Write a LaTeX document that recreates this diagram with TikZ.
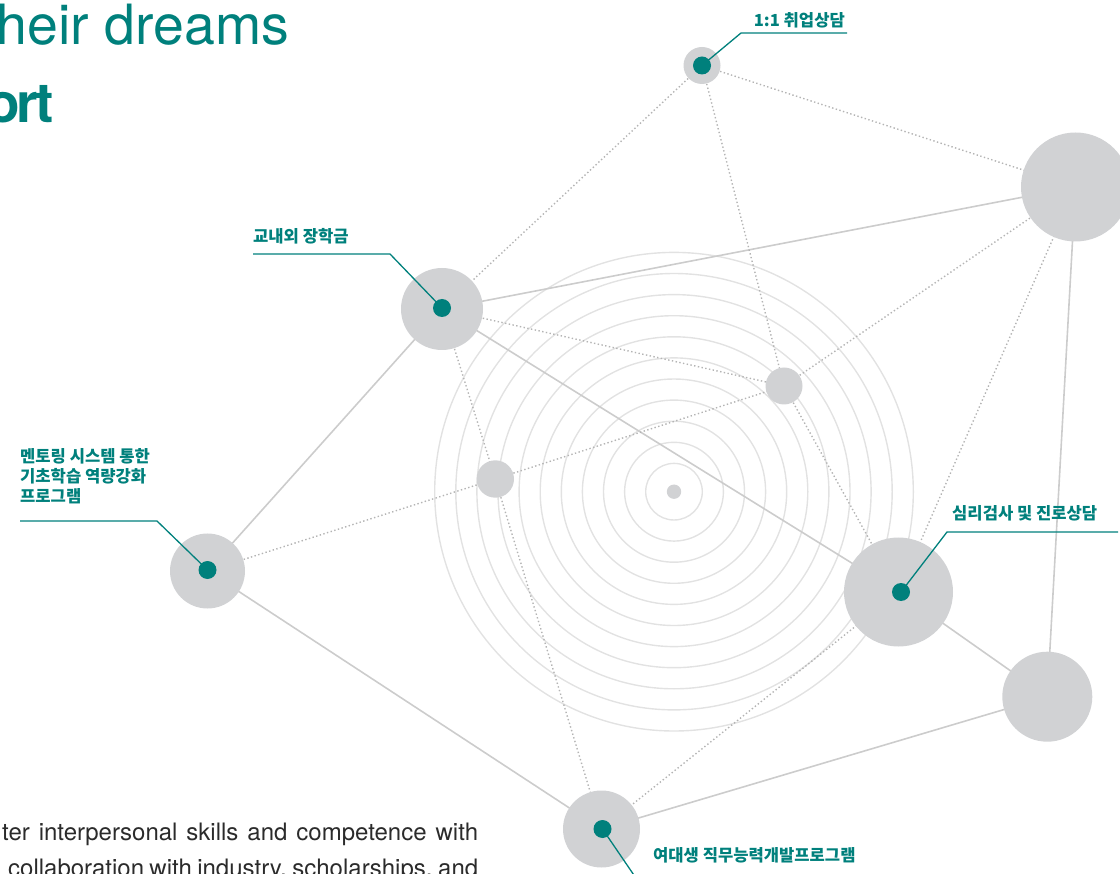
\documentclass[tikz,border=0pt]{standalone}
\usepackage{fontspec}
\setmainfont{TeX Gyre Heros}
\newfontfamily\kr{Noto Sans CJK KR}
\newfontfamily\titlebold[LetterSpace=-6]{TeX Gyre Heros}
\definecolor{teal0}{RGB}{0,128,124}
\definecolor{cgray}{RGB}{209,210,212}
\definecolor{clink}{RGB}{204,204,204}
\definecolor{cdot}{RGB}{180,180,180}
\definecolor{cring}{RGB}{226,226,226}
\definecolor{ctext}{RGB}{43,43,43}
\pgfdeclarelayer{rings}
\pgfdeclarelayer{links}
\pgfsetlayers{rings,links,main}
\begin{document}
\begin{tikzpicture}[x=1pt,y=-1pt,
  gnode/.style={circle,fill=cgray,inner sep=0pt,draw=none},
  tdot/.style={circle,fill=teal0,inner sep=0pt,minimum size=18pt},
  solidlink/.style={draw=clink,line width=1.6pt},
  dotlink/.style={draw=cdot,line width=1.4pt,dash pattern=on 1.4pt off 2.4pt},
  ring/.style={draw=cring,line width=1.4pt},
  leader/.style={draw=teal0,line width=1.3pt},
  lbl/.style={font=\kr\bfseries\fontsize{16.6}{20}\selectfont,text=teal0,inner sep=0pt},
  body/.style={font=\fontsize{24}{36}\selectfont,text=ctext,inner sep=0pt}]
\useasboundingbox (0,0) rectangle (1120,874);
\clip (0,0) rectangle (1120,874);
% title
\node[anchor=base west,inner sep=0pt,text=teal0,font=\fontsize{55.5}{60}\selectfont] (title1) at (-18.5,45) {their dreams};
\node[anchor=base east,inner sep=0pt,text=teal0,font=\titlebold\bfseries\fontsize{55}{60}\selectfont] (title2) at (54,123) {support};
% body text
\node[anchor=base west,body] (body1) at (2,840.7) {\makebox[476pt][s]{ter interpersonal skills and competence with}};
\node[anchor=base west,body] (body2) at (8,876.5) {\makebox[470pt][s]{collaboration with industry, scholarships, and}};
% centre
\node[gnode,minimum size=14.4pt] (ctr) at (674,491.7) {};
\begin{pgfonlayer}{rings}
\foreach \k in {0,...,10}
  \draw[ring] (ctr.center) circle[radius={28.3pt+21.1pt*\k}];
\end{pgfonlayer}
% nodes
\node[gnode,minimum size=37pt] (A) at (702,65.5) {};
\node[gnode,minimum size=109pt] (B) at (1075.5,187) {};
\node[gnode,minimum size=82pt] (C) at (442,309) {};
\node[gnode,minimum size=37pt] (D) at (784,386) {};
\node[gnode,minimum size=37.4pt] (E) at (495.3,479) {};
\node[gnode,minimum size=75pt] (F) at (207.5,571) {};
\node[gnode,minimum size=109pt] (G) at (898.5,592) {};
\node[gnode,minimum size=90pt] (H) at (1047.3,696.7) {};
\node[gnode,minimum size=77pt] (I) at (601.5,829) {};
% teal dots
\node[tdot] (Ad) at (702,65.5) {};
\node[tdot] (Cd) at (442,308) {};
\node[tdot] (Fd) at (207.5,570) {};
\node[tdot] (Gd) at (901,592) {};
\node[tdot] (Id) at (602.5,829) {};
% links
\begin{pgfonlayer}{links}
\draw[solidlink] (C.center) -- (B.center);
\draw[solidlink] (C.center) -- (G.center);
\draw[solidlink] (C.center) -- (F.center);
\draw[solidlink] (F.center) -- (I.center);
\draw[solidlink] (I.center) -- (H.center);
\draw[solidlink] (G.center) -- (H.center);
\draw[solidlink] (B.center) -- (H.center);
\draw[dotlink] (A.center) -- (C.center);
\draw[dotlink] (A.center) -- (B.center);
\draw[dotlink] (A.center) -- (D.center);
\draw[dotlink] (D.center) -- (G.center);
\draw[dotlink] (C.center) -- (D.center);
\draw[dotlink] (D.center) -- (B.center);
\draw[dotlink] (F.center) -- (E.center);
\draw[dotlink] (E.center) -- (D.center);
\draw[dotlink] (C.center) -- (E.center);
\draw[dotlink] (E.center) -- (I.center);
\draw[dotlink] (G.center) -- (I.center);
\draw[dotlink] (B.center) -- (G.center);
\end{pgfonlayer}
% leaders and labels
\coordinate (Ak) at (741,33);
\coordinate (Ae) at (847,33);
\draw[leader] (Ad.center) -- (Ak) -- (Ae);
\node[lbl,anchor=base east] (Al) at (845,26.5) {1:1 취업상담};
\coordinate (Ck) at (390,254);
\coordinate (Ce) at (253,254);
\draw[leader] (Cd.center) -- (Ck) -- (Ce);
\node[lbl,anchor=base west] (Cl) at (253,243) {교내외 장학금};
\coordinate (Fk) at (157,521);
\coordinate (Fe) at (20,521);
\draw[leader] (Fd.center) -- (Fk) -- (Fe);
\node[lbl,anchor=base west,align=left] (Fl) at (20,502.5) {멘토링 시스템 통한\\기초학습 역량강화\\프로그램};
\coordinate (Gk) at (947,532);
\coordinate (Ge) at (1118,532);
\draw[leader] (Gd.center) -- (Gk) -- (Ge);
\node[lbl,anchor=base west] (Gl) at (952,520) {심리검사 및 진로상담};
\coordinate (Ie) at (640,884);
\draw[leader] (Id.center) -- (Ie);
\node[lbl,anchor=base west] (Il) at (653,861) {여대생 직무능력개발프로그램};
\end{tikzpicture}
\end{document}
